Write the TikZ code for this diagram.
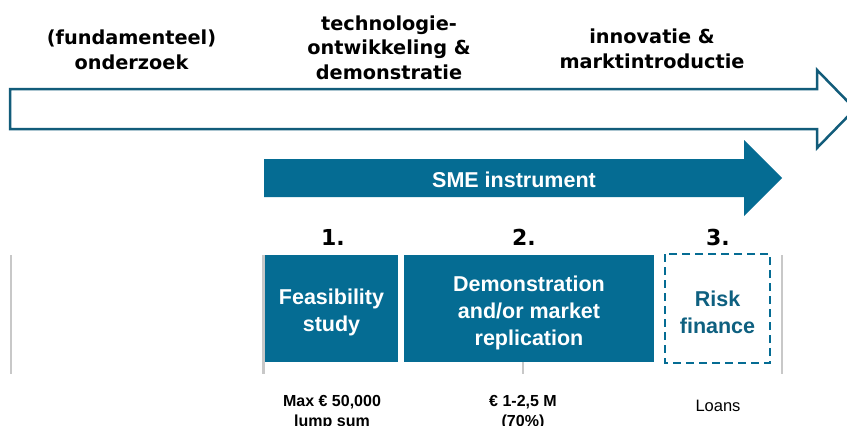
\documentclass[tikz,border=0pt]{standalone}
\usepackage{fontspec}
\setmainfont{Liberation Sans}
\newfontfamily\headfont{DejaVu Sans}
\definecolor{boxblue}{RGB}{5,108,147}
\definecolor{arrowline}{RGB}{18,92,122}
\definecolor{riskblue}{RGB}{14,96,128}
\definecolor{lightgray}{RGB}{200,200,200}
\tikzset{
  x=1pt, y=-1pt,
  headtext/.style={align=center, inner sep=0pt, font=\headfont\bfseries\fontsize{19.3}{24.5}\selectfont},
  numtext/.style={inner sep=0pt, font=\headfont\bfseries\fontsize{22}{26}\selectfont},
  boxtext/.style={align=center, inner sep=0pt, font=\bfseries\fontsize{21.5}{27}\selectfont},
  smalltext/.style={align=center, inner sep=0pt, font=\bfseries\fontsize{16}{20}\selectfont},
  stagebox/.style={fill=boxblue, draw=none},
  riskbox/.style={draw=boxblue, line width=2.5pt, dash pattern=on 8pt off 5pt},
  divider/.style={draw=lightgray, line width=2.5pt},
}
\begin{document}
\begin{tikzpicture}
\clip (0,0) rectangle (847,426);
\fill[white] (0,0) rectangle (847,426);

% headings
\node[headtext] (h1) at (131.5,50) {(fundamenteel)\\onderzoek};
\node[headtext] (h2) at (389,47.5) {technologie-\\ontwikkeling \&\\demonstratie};
\node[headtext] (h3) at (652,49) {innovatie \&\\marktintroductie};

% big hollow arrow
\draw[arrowline, line width=2.5pt, line join=miter, fill=white]
  (10,89) -- (817,89) -- (817,70) -- (855,109) -- (817,148) -- (817,129) -- (10,129) -- cycle;

% SME instrument arrow
\fill[boxblue] (264,159) -- (744,159) -- (744,140) -- (782,178) -- (744,216) -- (744,197) -- (264,197) -- cycle;
\node[boxtext, text=white] (sme) at (514,180) {SME instrument};

% dividers
\coordinate (d1t) at (11,255);  \coordinate (d1b) at (11,374);
\coordinate (d2t) at (263.5,255); \coordinate (d2b) at (263.5,374);
\coordinate (d3t) at (523,362); \coordinate (d3b) at (523,374);
\coordinate (d4t) at (782,255); \coordinate (d4b) at (782,374);
\draw[divider] (d1t) -- (d1b);
\draw[divider] (d2t) -- (d2b);
\draw[divider] (d3t) -- (d3b);
\draw[divider] (d4t) -- (d4b);

% numbers
\node[numtext] (n1) at (333,237) {1.};
\node[numtext] (n2) at (524,237) {2.};
\node[numtext] (n3) at (718,237) {3.};

% boxes
\fill[stagebox] (265,255) rectangle (398,362);
\fill[stagebox] (404,255) rectangle (654,362);
\draw[riskbox] (665,254) rectangle (770,363);

\node[boxtext, text=white] (b1) at (331.5,312.5) {Feasibility\\study};
\node[boxtext, text=white] (b2) at (529,312.5) {Demonstration\\and/or market\\replication};
\node[boxtext, text=riskblue] (b3) at (717.5,312.5) {Risk\\finance};

% bottom labels
\node[smalltext] (l1) at (332,413) {Max € 50,000\\lump sum};
\node[smalltext] (l2) at (523,413) {€ 1-2,5 M\\(70\%)};
\node[inner sep=0pt, font=\fontsize{16.5}{20}\selectfont] (l3) at (718,406) {Loans};
\end{tikzpicture}
\end{document}
